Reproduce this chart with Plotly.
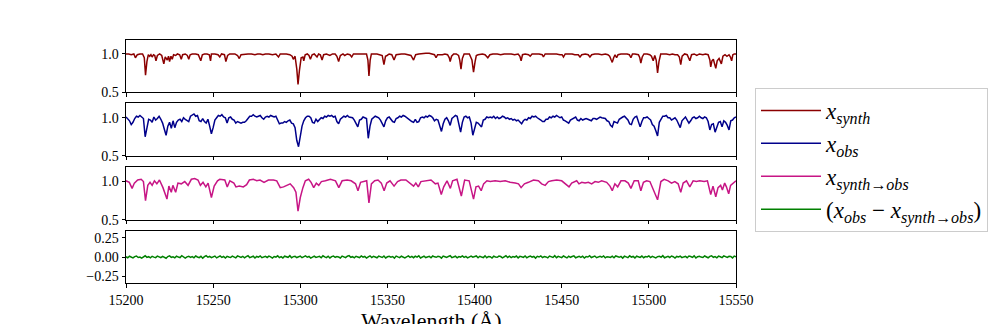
import numpy as np
import plotly.graph_objects as go

# ---------------- data ----------------
tick_wavelengths = [15200, 15250, 15300, 15350, 15400, 15450, 15500, 15550]

synth_wl = [
    15200.0, 15201.5, 15203.0, 15204.5, 15205.4, 15206.5, 15208.0, 15209.5, 15210.5, 15211.2,
    15212.0, 15212.8, 15213.6, 15214.3, 15215.0, 15215.8, 15216.5, 15217.2, 15218.0, 15219.3,
    15220.5, 15221.7, 15222.5, 15223.7, 15224.4, 15225.0, 15225.8, 15226.5, 15227.3, 15228.5,
    15229.5, 15230.8, 15231.7, 15232.5, 15234.0, 15235.2, 15236.0, 15236.8, 15238.0, 15240.0,
    15241.5, 15242.9, 15243.8, 15245.0, 15246.5, 15247.8, 15248.5, 15249.0, 15251.0, 15252.8,
    15253.8, 15254.8, 15256.5, 15257.3, 15258.3, 15259.5, 15261.0, 15262.5, 15264.0, 15265.0,
    15266.0, 15268.0, 15270.0, 15272.0, 15274.0, 15275.5, 15277.0, 15278.5, 15280.0, 15282.0,
    15284.0, 15286.0, 15287.5, 15288.5, 15290.0, 15292.0, 15294.0, 15295.3, 15296.0, 15297.0,
    15298.0, 15298.7, 15299.5, 15300.5, 15301.5, 15302.0, 15302.8, 15304.0, 15305.0, 15305.8,
    15306.8, 15308.0, 15309.6, 15310.5, 15311.5, 15312.5, 15313.4, 15315.0, 15317.0, 15318.5,
    15320.0, 15321.0, 15322.0, 15323.0, 15324.5, 15325.5, 15327.0, 15328.5, 15329.5, 15330.5,
    15332.0, 15334.0, 15336.0, 15338.0, 15338.8, 15339.4, 15340.1, 15340.8, 15342.5, 15344.0,
    15345.5, 15347.0, 15348.0, 15348.9, 15349.8, 15351.0, 15352.5, 15353.8, 15355.0, 15356.5,
    15358.0, 15360.0, 15362.0, 15363.5, 15365.0, 15366.2, 15368.0, 15370.0, 15372.0, 15374.0,
    15376.0, 15377.0, 15377.9, 15378.8, 15380.0, 15381.5, 15383.0, 15384.5, 15385.5, 15386.0,
    15386.8, 15388.0, 15389.5, 15390.8, 15391.5, 15392.2, 15393.0, 15394.0, 15395.5, 15397.0,
    15398.5, 15399.4, 15400.3, 15401.0, 15402.0, 15403.3, 15404.5, 15406.0, 15407.6, 15408.8,
    15410.5, 15413.0, 15415.0, 15417.0, 15419.0, 15421.0, 15423.0, 15425.0, 15426.0, 15426.7,
    15427.5, 15429.0, 15431.0, 15431.9, 15433.0, 15435.0, 15437.0, 15438.8, 15439.5, 15440.5,
    15442.5, 15445.0, 15447.0, 15449.0, 15450.2, 15451.0, 15452.0, 15454.0, 15456.0, 15457.5,
    15459.5, 15460.5, 15461.5, 15463.5, 15465.2, 15466.2, 15467.2, 15469.0, 15471.0, 15473.0,
    15475.0, 15476.5, 15477.5, 15478.4, 15479.0, 15479.8, 15480.6, 15481.5, 15482.3, 15484.0,
    15486.0, 15487.5, 15488.8, 15489.7, 15490.6, 15492.0, 15494.0, 15494.8, 15495.4, 15496.2,
    15497.2, 15499.0, 15500.5, 15501.5, 15502.5, 15503.4, 15504.2, 15505.0, 15505.8, 15506.8,
    15508.0, 15510.0, 15512.0, 15513.5, 15515.0, 15516.5, 15517.5, 15518.3, 15519.1, 15520.5,
    15522.0, 15523.5, 15524.5, 15526.0, 15527.5, 15529.0, 15531.0, 15532.5, 15534.0, 15535.0,
    15535.5, 15536.2, 15537.0, 15538.4, 15539.2, 15540.3, 15541.6, 15542.5, 15543.7, 15544.8,
    15546.0, 15546.8, 15547.5, 15548.2, 15549.0, 15550.0,
]
synth_flux = [
    1.00, 1.00, 0.99, 1.00, 0.95, 0.99, 1.00, 1.00, 0.95, 0.72,
    0.90, 0.99, 0.97, 0.99, 0.96, 0.99, 0.98, 0.91, 0.98, 1.00,
    0.98, 0.87, 0.96, 0.92, 0.97, 0.90, 0.97, 0.93, 0.99, 0.98,
    1.00, 0.99, 0.93, 0.99, 1.00, 0.98, 0.93, 0.99, 1.00, 1.00,
    0.99, 0.91, 0.99, 1.00, 1.00, 0.99, 0.91, 1.00, 1.00, 0.99,
    0.96, 1.00, 0.99, 0.90, 0.98, 1.00, 1.00, 1.00, 0.98, 0.94,
    0.99, 1.00, 1.00, 1.00, 0.99, 1.00, 1.00, 0.99, 1.00, 1.00,
    0.99, 1.00, 0.96, 1.00, 1.00, 1.00, 0.99, 0.97, 0.93, 0.97,
    0.80, 0.60, 0.78, 0.95, 0.96, 0.91, 0.99, 1.00, 0.98, 0.93,
    0.99, 1.00, 0.96, 1.00, 0.99, 0.92, 0.99, 1.00, 0.98, 1.00,
    1.00, 0.97, 0.90, 0.98, 1.00, 0.98, 1.00, 0.99, 0.96, 1.00,
    1.00, 1.00, 1.00, 1.00, 0.92, 0.71, 0.92, 1.00, 1.00, 1.00,
    0.99, 0.98, 0.86, 0.97, 0.98, 1.00, 0.99, 0.92, 0.99, 1.00,
    1.00, 1.00, 0.99, 0.98, 0.92, 0.99, 1.00, 1.01, 1.01, 1.01,
    1.00, 0.99, 0.95, 0.99, 0.99, 0.99, 1.00, 0.99, 0.95, 0.90,
    0.97, 1.00, 1.00, 0.98, 0.92, 0.80, 0.94, 1.00, 1.00, 1.00,
    0.92, 0.76, 0.90, 0.98, 0.99, 1.00, 1.00, 0.99, 0.95, 0.99,
    1.00, 1.00, 0.99, 1.00, 1.00, 1.00, 0.99, 1.00, 0.97, 0.91,
    0.99, 1.00, 0.99, 0.97, 1.00, 1.00, 1.00, 0.99, 0.96, 1.00,
    1.00, 1.00, 1.00, 0.99, 0.99, 0.96, 1.00, 1.00, 1.00, 0.99,
    0.99, 0.96, 0.99, 1.00, 0.99, 0.96, 0.99, 1.00, 1.00, 0.99,
    1.00, 0.99, 0.97, 0.92, 0.89, 0.95, 0.99, 0.95, 0.99, 1.00,
    1.00, 1.00, 0.99, 0.95, 1.00, 1.00, 0.99, 0.95, 0.88, 0.96,
    1.00, 1.00, 0.99, 0.97, 0.91, 0.98, 0.92, 0.75, 0.90, 1.00,
    1.00, 1.00, 0.99, 1.00, 0.99, 0.99, 0.96, 0.86, 0.97, 1.00,
    0.99, 0.91, 0.99, 1.00, 0.98, 1.00, 0.99, 1.00, 0.99, 0.92,
    0.83, 0.91, 0.93, 0.81, 0.91, 0.94, 0.87, 0.97, 0.99, 0.97,
    0.99, 0.96, 0.91, 0.99, 1.00, 1.00,
]

obs_wl_start = 15200  # observed spectrum sampled every 1 Angstrom
obs_flux = [
    1.01, 0.98, 0.96, 0.91, 0.94, 0.99, 1.02, 1.01, 1.03, 1.01,
    0.99, 0.75, 0.89, 0.98, 0.97, 0.94, 1.01, 0.97, 0.99, 1.02,
    0.98, 0.93, 0.85, 0.77, 0.89, 0.94, 0.86, 0.96, 0.87, 0.94,
    0.97, 0.98, 0.95, 1.00, 0.98, 0.96, 0.95, 1.02, 1.03, 1.05,
    1.02, 1.03, 0.96, 0.95, 0.99, 0.95, 0.93, 0.98, 0.89, 0.79,
    0.87, 0.97, 1.00, 1.03, 1.02, 1.04, 1.01, 1.00, 0.93, 1.00,
    1.01, 0.98, 0.97, 0.93, 0.95, 0.94, 0.93, 0.94, 0.94, 0.96,
    0.99, 1.02, 1.02, 1.04, 1.02, 1.01, 1.02, 1.03, 1.00, 0.98,
    1.01, 1.02, 1.01, 1.03, 1.02, 1.01, 1.02, 0.97, 0.92, 0.93,
    0.93, 0.95, 0.94, 0.96, 0.97, 0.93, 0.92, 0.87, 0.70, 0.62,
    0.78, 0.89, 0.96, 1.00, 1.02, 1.02, 1.00, 0.94, 0.93, 0.98,
    0.95, 0.97, 1.00, 0.99, 1.02, 1.01, 1.03, 1.02, 1.03, 1.01,
    1.02, 0.95, 0.92, 0.98, 1.00, 1.02, 1.01, 1.03, 1.01, 1.00,
    1.00, 0.97, 0.93, 0.88, 0.97, 0.98, 1.01, 1.00, 0.99, 0.73,
    0.89, 0.98, 1.00, 1.02, 1.01, 1.00, 0.97, 0.92, 0.88, 0.96,
    1.00, 1.01, 0.98, 0.95, 0.94, 0.99, 1.00, 1.02, 1.01, 1.03,
    1.02, 1.00, 0.99, 0.96, 0.95, 0.94, 0.98, 0.94, 0.95, 1.00,
    1.01, 1.00, 1.02, 1.01, 1.03, 1.02, 1.00, 0.96, 0.98, 0.97,
    0.90, 0.82, 0.92, 0.98, 1.00, 0.96, 0.90, 0.99, 1.01, 1.03,
    1.02, 0.93, 0.81, 0.94, 1.01, 1.02, 1.00, 1.01, 0.93, 0.77,
    0.87, 0.94, 0.93, 0.91, 0.88, 0.97, 0.98, 1.01, 1.00, 1.01,
    1.00, 1.02, 0.99, 1.01, 0.99, 1.00, 1.02, 1.01, 0.99, 1.00,
    0.98, 0.99, 0.97, 0.98, 0.96, 0.97, 0.94, 0.92, 0.96, 0.98,
    0.97, 1.00, 0.99, 1.02, 1.01, 1.02, 1.00, 0.99, 0.97, 0.95,
    0.95, 0.98, 0.98, 1.01, 1.00, 1.02, 1.01, 1.03, 1.01, 1.00,
    1.01, 0.97, 0.96, 0.94, 0.93, 0.97, 0.98, 1.00, 1.01, 0.97,
    0.96, 0.99, 0.97, 0.98, 0.99, 0.98, 0.97, 0.96, 0.99, 0.99,
    0.98, 0.99, 1.01, 1.00, 0.99, 0.99, 0.96, 0.95, 0.90, 0.88,
    0.95, 0.94, 0.93, 0.98, 1.00, 1.01, 1.02, 0.99, 0.97, 0.92,
    0.91, 0.98, 1.01, 1.02, 0.96, 0.88, 0.95, 1.00, 1.00, 1.01,
    0.99, 0.97, 0.91, 0.89, 0.83, 0.76, 0.94, 0.99, 1.02, 1.02,
    1.03, 1.00, 1.00, 0.97, 0.99, 1.00, 0.97, 0.92, 0.87, 0.96,
    0.98, 1.01, 0.97, 0.93, 0.96, 1.00, 1.01, 0.99, 1.00, 1.02,
    1.00, 0.99, 1.01, 1.00, 0.95, 0.84, 0.91, 0.92, 0.81, 0.89,
    0.94, 0.95, 0.88, 0.96, 0.94, 0.90, 0.84, 0.96, 0.97, 1.00,
    1.01,
]

conv_wl = [
    15200.0, 15201.9, 15203.5, 15204.8, 15206.7, 15208.7, 15210.0, 15211.2, 15212.5, 15213.8,
    15215.0, 15216.3, 15217.7, 15219.2, 15221.2, 15223.5, 15224.6, 15226.0, 15226.9, 15228.5,
    15229.8, 15231.7, 15233.7, 15235.6, 15237.5, 15239.4, 15241.3, 15242.7, 15244.2, 15245.8,
    15247.1, 15249.0, 15250.6, 15252.5, 15253.8, 15256.7, 15258.1, 15259.6, 15261.9, 15263.1,
    15265.0, 15267.3, 15269.2, 15270.8, 15273.1, 15275.0, 15276.9, 15279.2, 15281.7, 15284.6,
    15286.5, 15288.5, 15290.4, 15292.3, 15294.2, 15296.2, 15297.5, 15298.7, 15300.0, 15301.5,
    15302.9, 15304.8, 15306.2, 15307.7, 15309.2, 15310.6, 15312.1, 15314.4, 15317.3, 15320.2,
    15322.1, 15324.0, 15326.9, 15329.2, 15331.7, 15333.1, 15334.6, 15338.1, 15339.4, 15340.8,
    15342.7, 15344.6, 15346.5, 15348.1, 15349.6, 15351.5, 15353.8, 15355.8, 15357.7, 15360.6,
    15362.5, 15365.0, 15366.3, 15367.7, 15369.2, 15372.1, 15375.0, 15377.5, 15379.0, 15380.9,
    15382.3, 15384.2, 15386.1, 15387.4, 15389.9, 15392.4, 15394.3, 15396.9, 15399.4, 15400.8,
    15402.3, 15403.8, 15405.2, 15407.1, 15409.0, 15411.8, 15414.7, 15417.6, 15420.4, 15423.3,
    15425.2, 15426.7, 15428.6, 15430.9, 15433.8, 15436.6, 15438.5, 15440.5, 15442.4, 15444.3,
    15447.1, 15450.0, 15451.9, 15454.2, 15455.7, 15458.6, 15459.9, 15461.5, 15463.4, 15465.3,
    15467.2, 15469.1, 15471.0, 15472.9, 15475.8, 15477.7, 15479.0, 15480.5, 15482.1, 15484.0,
    15486.3, 15488.2, 15489.7, 15491.6, 15493.9, 15495.4, 15496.9, 15498.7, 15500.6, 15502.5,
    15505.0, 15506.9, 15508.8, 15511.1, 15513.0, 15514.9, 15516.8, 15518.3, 15519.7, 15521.6,
    15523.5, 15525.4, 15527.3, 15529.2, 15531.7, 15533.6, 15534.4, 15535.5, 15536.8, 15538.4,
    15539.7, 15541.2, 15542.2, 15543.5, 15544.5, 15545.8, 15546.9, 15548.3, 15550.0,
]
conv_flux = [
    1.01, 0.99, 0.91, 0.98, 1.02, 1.03, 1.00, 0.75, 0.95, 0.99,
    0.95, 1.01, 0.97, 1.02, 0.92, 0.77, 0.94, 0.86, 0.95, 0.86,
    0.98, 0.97, 1.00, 0.95, 1.03, 1.04, 1.02, 0.95, 0.99, 0.93,
    0.98, 0.79, 0.94, 1.01, 1.03, 1.02, 0.93, 1.01, 0.98, 0.93,
    0.94, 0.93, 0.96, 1.02, 1.03, 1.01, 1.02, 0.99, 1.02, 1.02,
    1.01, 0.92, 0.93, 0.95, 0.97, 0.92, 0.86, 0.61, 0.79, 0.92,
    1.01, 1.03, 0.99, 0.92, 0.98, 0.95, 1.00, 1.01, 1.03, 1.01,
    0.92, 1.01, 1.02, 1.01, 0.97, 0.88, 0.99, 1.01, 0.72, 0.97,
    1.01, 1.02, 0.98, 0.88, 0.98, 1.01, 0.94, 1.00, 1.02, 1.02,
    0.98, 0.94, 0.98, 0.93, 1.00, 1.01, 1.02, 0.97, 0.98, 0.83,
    0.93, 1.01, 0.91, 1.01, 1.03, 0.81, 1.02, 1.01, 0.77, 0.93,
    0.94, 0.88, 0.97, 1.01, 1.00, 1.01, 1.00, 1.01, 0.99, 0.98,
    0.97, 0.92, 0.97, 0.99, 1.02, 1.01, 0.97, 0.95, 1.00, 1.01,
    1.02, 1.01, 0.97, 0.93, 0.98, 1.01, 0.97, 0.99, 0.98, 0.99,
    0.97, 1.00, 0.99, 1.01, 0.99, 0.94, 0.88, 0.97, 0.93, 1.01,
    1.01, 0.98, 0.91, 1.01, 1.01, 0.88, 0.99, 1.01, 1.00, 0.90,
    0.76, 1.00, 1.03, 1.01, 0.98, 1.00, 0.97, 0.86, 0.98, 1.01,
    0.93, 1.01, 1.00, 1.01, 1.00, 1.01, 0.94, 0.83, 0.94, 0.80,
    0.92, 0.95, 0.89, 0.98, 0.93, 0.84, 0.95, 0.98, 1.01,
]

# residual (obs - synth->obs) in units of 0.001, sampled every 1 Angstrom
resid_milli = [
    5, -8, 12, 3, -10, 7, 15, -4, 2, -12, 9, 18, -3, 6, -9, 11, 0, -6, 14, 4,
    -7, 10, 3, -14, 8, 16, -2, 5, -9, 13, 1, -5, 19, 7, -11, 4, 12, -3, 8, -8,
    15, 2, -6, 11, -13, 6, 20, -1, 9, -7, 3, 14, -10, 5, 17, -4, 8, -12, 10, 1,
    -5, 13, 6, -9, 16, 2, -3, 11, -8, 7, 18, -6, 4, 12, -11, 9, 0, 15, -7, 5,
    10, -4, 14, 3, -12, 8, 1, 17, -6, 6, -10, 12, 4, -2, 19, -9, 7, 11, -5, 3,
    13, -7, 5, 16, -1, 9, -13, 6, 14, -4, 2, 10, -8, 18, 3, -6, 12, -10, 7, 15,
    -3, 8, 1, -11, 14, 5, -7, 12, 20, -2, 6, -9, 11, 3, -5, 16, 0, 9, -12, 4,
    17, -6, 10, 2, -8, 13, 7, -4, 15, -10, 5, 11, -1, 8, -13, 14, 3, -5, 12, 6,
    -9, 4, 16, -3, 9, -7, 12, 1, 18, -11, 6, 13, -5, 2, 10, -8, 15, 4, -2, 11,
    7, -12, 14, 5, -4, 9, 19, -6, 3, 12, -9, 8, 1, 16, -3, 10, -10, 6, 13, -1,
    4, 15, -8, 11, 2, -5, 17, -7, 9, 6, -11, 13, 3, -2, 14, 8, -9, 5, 18, -4,
    12, -6, 7, 1, 15, -10, 10, 4, -3, 16, -8, 6, 13, -1, 9, -12, 11, 2, 17, -5,
    8, 3, -9, 14, 6, -4, 19, -7, 11, 1, -6, 15, 5, -10, 12, -2, 8, 16, -8, 4,
    10, -3, 13, -11, 7, 2, 18, -5, 9, 14, -7, 4, 11, -1, 16, -9, 6, 3, -4, 12,
    -8, 15, 5, -2, 10, -12, 13, 7, -6, 17, 1, 9, -10, 12, 4, -3, 14, -7, 8, 2,
    16, -5, 11, 3, -9, 7, 12, -1, 19, -8, 5, 10, -4, 15, 6, -11, 9, 2, 13, -6,
    3, 11, -7, 14, 8, -3, 17, -10, 6, 12, 1, -5, 15, 4, -8, 10, 18, -2, 7, -9,
    13, 5, -6, 16, 2, -4, 11, 8, -10, 14, 6,
]

labels = [
    "<i>x</i><sub><i>synth</i></sub>",
    "<i>x</i><sub><i>obs</i></sub>",
    "<i>x</i><sub><i>synth</i>→<i>obs</i></sub>",
    "(<i>x</i><sub><i>obs</i></sub> − <i>x</i><sub><i>synth</i>→<i>obs</i></sub>)",
]
colors = ["#8b0000", "#00008b", "#c71585", "#008000"]

# ---------------- figure ----------------
obs_wl = obs_wl_start + np.arange(len(obs_flux))
resid_wl = obs_wl_start + np.arange(len(resid_milli))
resid = np.array(resid_milli) / 1000.0

FONT = "Liberation Serif"
W, H = 1008, 324

fig = go.Figure()
series = [
    (synth_wl, synth_flux),
    (list(obs_wl), obs_flux),
    (conv_wl, conv_flux),
    (list(resid_wl), list(resid)),
]
for i, (xs, ys) in enumerate(series):
    ax = "" if i == 0 else str(i + 1)
    fig.add_trace(go.Scatter(
        x=xs, y=ys, mode="lines", name=labels[i],
        line=dict(color=colors[i], width=1.5),
        xaxis="x" + ax, yaxis="y" + ax,
        legendgroup=str(i),
    ))

# panel pixel boxes (top, bottom)
panels = [(39.5, 92.0), (103.3, 155.8), (167.1, 219.6), (230.9, 283.4)]
xdom = [126 / W, 736 / W]
yranges = [[0.5, 1.19], [0.5, 1.19], [0.5, 1.19], [-0.34, 0.34]]

axis_common = dict(
    showline=True, linecolor="black", linewidth=1, mirror=True,
    ticks="outside", ticklen=3.5, tickwidth=1, tickcolor="black",
    showgrid=False, zeroline=False, automargin=False,
    tickfont=dict(family=FONT, size=14, color="black"),
)

layout = dict(
    template="none",
    width=W, height=H, autosize=False,
    margin=dict(l=0, r=0, t=0, b=0, pad=0),
    paper_bgcolor="white", plot_bgcolor="white",
    showlegend=True,
    legend=dict(
        x=755 / W, y=1 - 88 / H, xanchor="left", yanchor="top",
        bordercolor="#cccccc", borderwidth=1, bgcolor="white",
        font=dict(family=FONT, size=23, color="black"),
        tracegroupgap=0, itemwidth=60,
    ),
)
for i, (top, bot) in enumerate(panels):
    ax = "" if i == 0 else str(i + 1)
    xa = dict(axis_common)
    xa.update(domain=xdom, range=[15200, 15550], tickvals=tick_wavelengths,
              tickformat="d", anchor="y" + ax, showticklabels=(i == 3))
    ya = dict(axis_common)
    ya.update(domain=[1 - bot / H, 1 - top / H], range=yranges[i], anchor="x" + ax)
    if i < 3:
        ya.update(tickvals=[0.5, 1.0], tickformat=".1f")
    else:
        ya.update(tickvals=[-0.25, 0.0, 0.25], tickformat=".2f")
    layout["xaxis" + ax] = xa
    layout["yaxis" + ax] = ya

layout["annotations"] = [dict(
    text="Wavelength (Å)", xref="paper", yref="paper",
    x=431 / W, y=1 - 320 / H, xanchor="center", yanchor="middle",
    showarrow=False, font=dict(family=FONT, size=22, color="black"),
)]
fig.update_layout(**layout)
fig.write_html("out.html")
